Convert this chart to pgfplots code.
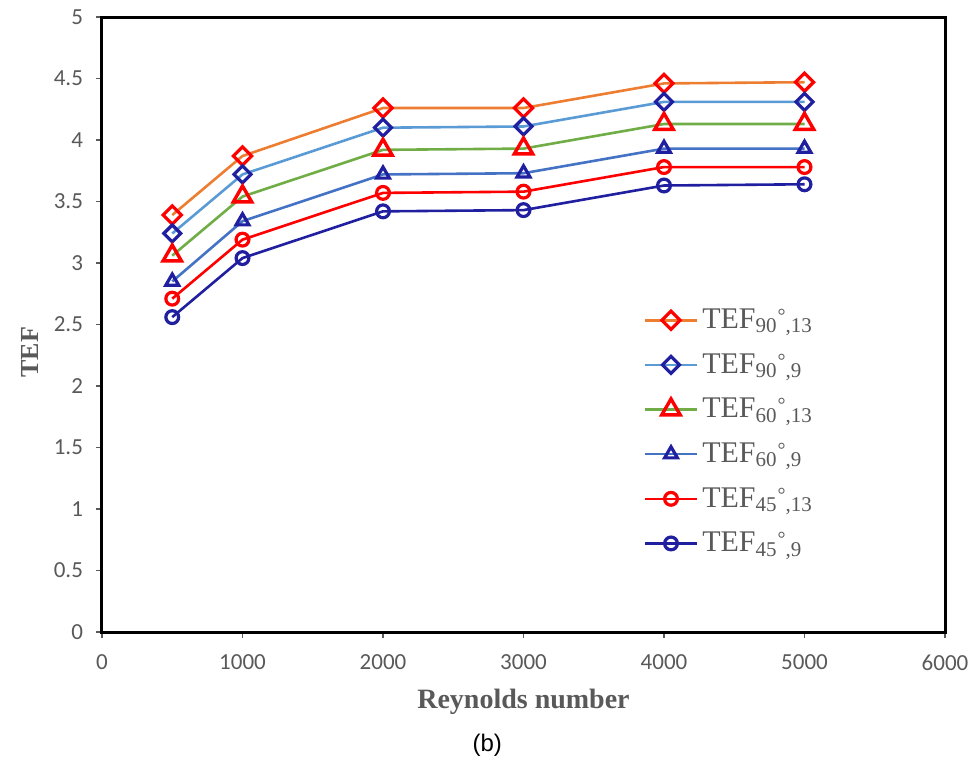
\documentclass[border=0pt]{standalone}
\usepackage{fontspec}
\setmainfont{Liberation Serif}
\newfontfamily\carlito{Carlito}
\newfontfamily\arialfont{Liberation Sans}
\usepackage{pgfplots}
\pgfplotsset{compat=1.18}

\definecolor{cOrange}{HTML}{ED7D31}
\definecolor{cLBlue}{HTML}{5B9BD5}
\definecolor{cGreen}{HTML}{70AD47}
\definecolor{cBlue}{HTML}{4472C4}
\definecolor{cRed}{HTML}{FF0000}
\definecolor{cNavy}{HTML}{1F1F9F}
\definecolor{cGray}{HTML}{595959}

\newcommand{\degmark}{\raisebox{3pt}{\fontsize{10}{10}\selectfont °}}

\begin{document}
\begin{tikzpicture}
\begin{axis}[
  width=421.5pt, height=307.5pt, scale only axis,
  xmin=0, xmax=6000, ymin=0, ymax=5,
  xtick={0,1000,2000,3000,4000,5000,6000},
  ytick={0,0.5,1,1.5,2,2.5,3,3.5,4,4.5,5},
  scaled x ticks=false,
  /pgf/number format/1000 sep={},
  /pgf/number format/assume math mode=true,
  tick label style={font=\carlito\fontsize{11.5}{13}\selectfont, text=cGray},
  xticklabel style={yshift=-5pt},
  yticklabel style={xshift=-3pt},
  xtick pos=bottom, ytick pos=left, tick align=outside,
  major tick length=3pt,
  tick style={cGray, line width=0.6pt},
  axis line style={black, line width=1.5pt},
  xlabel={\textbf{Reynolds number}},
  ylabel={\textbf{TEF}},
  every axis x label/.style={at={(axis description cs:0.5,0)}, yshift=-35pt, anchor=center,
     font=\fontsize{14}{16}\selectfont, text=cGray},
  every axis y label/.style={at={(axis description cs:0,0.455)}, xshift=-36pt, anchor=center,
     rotate=90, font=\fontsize{13}{15}\selectfont, text=cGray},
  legend style={at={(0.635,0.539)}, anchor=north west, draw=none, fill=none,
     font=\fontsize{15}{18}\selectfont, text=cGray, row sep=7pt},
  legend cell align=left,
  legend image code/.code={\draw[mark repeat=2, mark phase=2]
     plot coordinates {(0pt,0pt)(13pt,0pt)(26pt,0pt)};},
  clip=false,
]
\addplot[cOrange, line width=1.3pt, mark=square, mark size=3.2pt,
  mark options={draw=cRed, fill=white, rotate=45, line width=1.6pt}]
  coordinates {(500,3.39)(1000,3.87)(2000,4.26)(3000,4.26)(4000,4.46)(5000,4.47)};
\addlegendentry{TEF\textsubscript{90}\degmark\textsubscript{,13}}
\addplot[cLBlue, line width=1.3pt, mark=square, mark size=3.0pt,
  mark options={draw=cNavy, fill=white, rotate=45, line width=1.6pt}]
  coordinates {(500,3.24)(1000,3.72)(2000,4.10)(3000,4.11)(4000,4.31)(5000,4.31)};
\addlegendentry{TEF\textsubscript{90}\degmark\textsubscript{,9}}
\addplot[cGreen, line width=1.3pt, mark=triangle, mark size=5.3pt,
  mark options={draw=cRed, fill=white, line width=1.7pt}]
  coordinates {(500,3.06)(1000,3.54)(2000,3.92)(3000,3.93)(4000,4.13)(5000,4.13)};
\addlegendentry{TEF\textsubscript{60}\degmark\textsubscript{,13}}
\addplot[cBlue, line width=1.3pt, mark=triangle, mark size=3.7pt,
  mark options={draw=cNavy, fill=white, line width=1.6pt}]
  coordinates {(500,2.85)(1000,3.34)(2000,3.72)(3000,3.73)(4000,3.93)(5000,3.93)};
\addlegendentry{TEF\textsubscript{60}\degmark\textsubscript{,9}}
\addplot[cRed, line width=1.3pt, mark=o, mark size=3.2pt,
  mark options={draw=cRed, fill=white, line width=1.6pt}]
  coordinates {(500,2.71)(1000,3.19)(2000,3.57)(3000,3.58)(4000,3.78)(5000,3.78)};
\addlegendentry{TEF\textsubscript{45}\degmark\textsubscript{,13}}
\addplot[cNavy, line width=1.3pt, mark=o, mark size=3.2pt,
  mark options={draw=cNavy, fill=white, line width=1.6pt}]
  coordinates {(500,2.56)(1000,3.04)(2000,3.42)(3000,3.43)(4000,3.63)(5000,3.64)};
\addlegendentry{TEF\textsubscript{45}\degmark\textsubscript{,9}}
\node[font=\arialfont\fontsize{12}{14}\selectfont, anchor=center]
  at ([yshift=-56.5pt]axis description cs:0.457,0) {(b)};
\end{axis}
\pgfresetboundingbox
\path ([shift={(-51pt,-64pt)}]current axis.south west)
  rectangle ([shift={(14pt,8.5pt)}]current axis.north east);
\end{tikzpicture}
\end{document}
